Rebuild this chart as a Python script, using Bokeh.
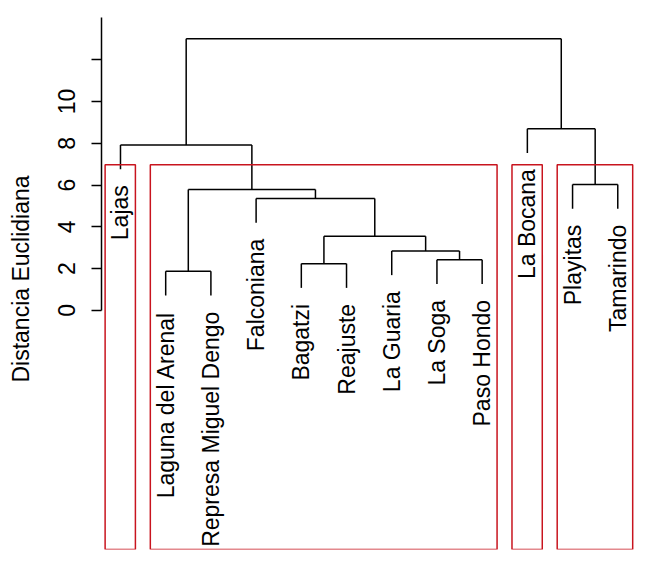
import math
from bokeh.plotting import figure
from bokeh.models import Range1d, FixedTicker, ColumnDataSource
from bokeh.embed import file_html
from bokeh.resources import INLINE
from bokeh.core.properties import value

# ---- data ----
leaf_labels = ["Lajas", "Laguna del Arenal", "Represa Miguel Dengo", "Falconiana",
               "Bagatzi", "Reajuste", "La Guaria", "La Soga", "Paso Hondo",
               "La Bocana", "Playitas", "Tamarindo"]
# hclust-style merges: negative = leaf (1-based), positive = earlier merge (1-based)
merge_a = [-2, -5, -8, -7, 2, -4, 1, -11, -1, -10, 9]
merge_b = [-3, -6, -9, 3, 4, 5, 6, -12, 7, 8, 10]
merge_h = [1.87, 2.24, 2.43, 2.85, 3.55, 5.36, 5.79, 6.03, 7.92, 8.69, 13.0]
n_clusters = 4
y_ticks = [0, 2, 4, 6, 8, 10, 12]
y_axis_label = "Distancia Euclidiana"

HANG = 1.16
FONT = "Liberation Sans"

# ---- leaf order ----
def order(node):
    if node < 0:
        return [-node]
    return order(merge_a[node - 1]) + order(merge_b[node - 1])

leaf_order = order(len(merge_h))
pos = {leaf: i + 1 for i, leaf in enumerate(leaf_order)}

xpos = {}
def node_x(node):
    if node < 0:
        return pos[-node]
    return xpos[node]

for i in range(len(merge_h)):
    xpos[i + 1] = (node_x(merge_a[i]) + node_x(merge_b[i])) / 2.0

def node_top(node, parent_h):
    if node < 0:
        return parent_h - HANG
    return merge_h[node - 1]

x0, y0, x1, y1 = [], [], [], []
leaf_bottom = {}
for i in range(len(merge_h)):
    h = merge_h[i]
    a, b = merge_a[i], merge_b[i]
    xa, xb = node_x(a), node_x(b)
    x0.append(xa); y0.append(h); x1.append(xb); y1.append(h)
    for c, xc in ((a, xa), (b, xb)):
        top = node_top(c, h)
        x0.append(xc); y0.append(h); x1.append(xc); y1.append(top)
        if c < 0:
            leaf_bottom[-c] = top

# ---- figure ----
Y_START = -11.44
Y_END = 14.45
p = figure(width=634, height=550, output_backend="svg", toolbar_location=None,
           x_range=Range1d(0.58, 12.37), y_range=Range1d(Y_START, Y_END),
           min_border_left=101, min_border_right=0, min_border_top=8, min_border_bottom=1)
p.xaxis.visible = False
p.xgrid.visible = False
p.ygrid.visible = False
p.outline_line_color = None
p.background_fill_color = "white"
p.border_fill_color = "white"

ax = p.yaxis[0]
ax.ticker = FixedTicker(ticks=y_ticks)
ax.major_label_overrides = {12: ""}
ax.bounds = (0, 14)
ax.axis_line_color = "black"
ax.axis_line_width = 1.5
ax.major_tick_line_width = 1.5
ax.major_tick_line_color = "black"
ax.major_tick_out = 10
ax.major_tick_in = 0
ax.minor_tick_line_color = None
ax.major_label_orientation = "vertical"
ax.major_label_text_font = FONT
ax.major_label_text_font_size = "23px"
ax.major_label_text_color = "black"
ax.major_label_standoff = 16
ax.axis_label = y_axis_label
ax.axis_label_text_font = FONT
ax.axis_label_text_font_size = "23px"
ax.axis_label_text_font_style = "normal"
ax.axis_label_text_color = "black"
ax.axis_label_standoff = 22

p.segment(x0=x0, y0=y0, x1=x1, y1=y1, line_color="black", line_width=1.5)

# labels
lab_src = ColumnDataSource(dict(
    x=[pos[l] for l in leaf_order],
    y=[leaf_bottom[l] for l in leaf_order],
    t=[leaf_labels[l - 1] for l in leaf_order]))
p.text(x="x", y="y", text="t", source=lab_src, angle=math.pi / 2,
       text_align="right", text_baseline="middle", y_offset=16,
       text_font=value(FONT), text_font_size="23px", text_color="black")

# cluster rectangles (like rect.hclust)
rect_top = (merge_h[-(n_clusters - 1)] + merge_h[-n_clusters]) / 2.0
groups = [len(merge_h)]
while len(groups) < n_clusters:
    top = max([g for g in groups if g > 0], key=lambda g: merge_h[g - 1])
    groups.remove(top)
    groups += [merge_a[top - 1], merge_b[top - 1]]
rl, rr, rb, rt = [], [], [], []
for g in groups:
    leaves = order(g) if g > 0 else [-g]
    xs = [pos[l] for l in leaves]
    rl.append(min(xs) - 0.34); rr.append(max(xs) + 0.33)
    rb.append(Y_START); rt.append(rect_top)
p.quad(left=rl, right=rr, bottom=rb, top=rt, fill_color=None,
       line_color="#c8141e", line_width=1.5)

open("out.html", "w").write(file_html(p, INLINE))
